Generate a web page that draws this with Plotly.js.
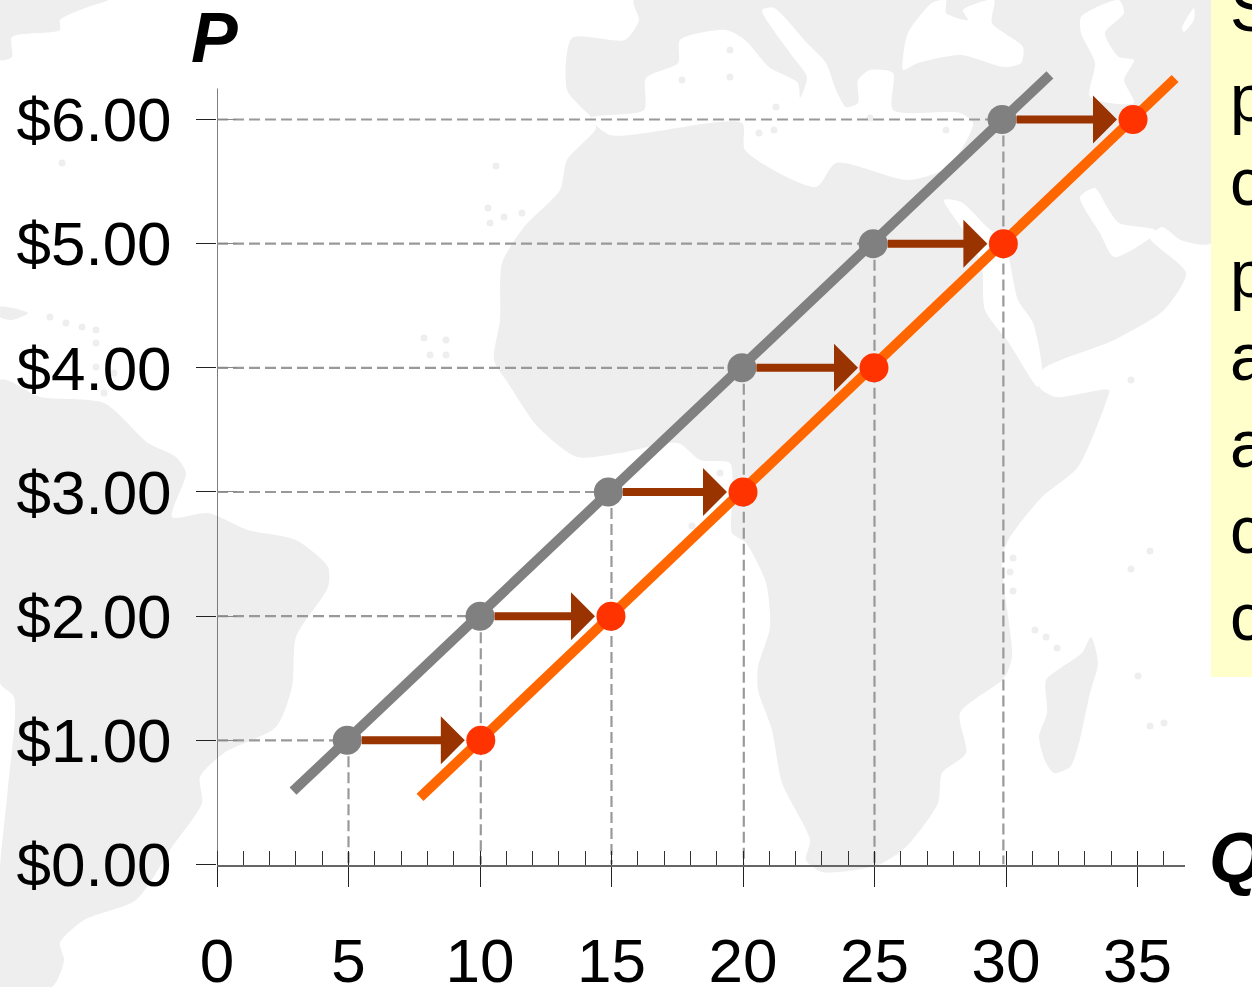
<!DOCTYPE html>
<html>
<head>
<meta charset="utf-8">
<script src="https://cdn.plot.ly/plotly-3.0.1.min.js"></script>
<style>html,body{margin:0;padding:0;background:#fff;overflow:hidden}</style>
</head>
<body>
<div id="chart" style="width:1252px;height:987px"></div>
<script>
// Supply schedule before and after the shift
const priceTicks = [0, 1, 2, 3, 4, 5, 6];
const priceLabels = ['$0.00', '$1.00', '$2.00', '$3.00', '$4.00', '$5.00', '$6.00'];
const prices = [1, 2, 3, 4, 5, 6];
const oldQuantity = [4.95, 10, 14.88, 19.96, 24.95, 29.85];
const newQuantity = [10.03, 14.98, 20, 24.98, 29.9, 34.83];
const guideQuantity = [5, 10.03, 15, 20.03, 25, 29.9];
const oldLineQ = [2.89, 31.67];
const oldLineP = [0.59, 6.36];
const newLineQ = [7.72, 36.43];
const newLineP = [0.54, 6.33];
const axisTopP = 6.25;

// Sidebar text, cut by the page edge
const noteLetters = ['S', 'p', 'c', 'p', 'a', 'a', 'c', 'c'];
const noteRows = [14, 104, 188, 280, 363, 450, 536, 623];

// Backdrop world map, outlined in page coordinates
const afroEurasia = [[572,38],[625,40],[639,20],[634,0],[1211,0],[1211,243],[1181,240],[1162,227],[1150,238],
  [1186,273],[1164,310],[1114,340],[1042,370],[1040,388],[1056,397],[1109,390],[1106,402],[1078,467],[1042,497],
  [1010,537],[1002,557],[1004,587],[1012,657],[1004,678],[960,713],[966,753],[942,773],[938,803],[906,847],
  [878,865],[822,872],[806,860],[810,840],[782,783],[772,730],[758,690],[758,667],[770,627],[766,583],[746,543],
  [732,533],[732,500],[730,463],[700,460],[678,443],[620,453],[577,457],[538,427],[508,383],[494,360],[500,320],
  [502,263],[524,227],[560,190],[567,160],[596,128],[591,117],[584,110],[567,90]];
const mediterranean = [[591,118],[644,110],[646,78],[678,63],[680,40],[726,30],[745,40],[769,67],[798,83],[800,98],
  [807,77],[793,57],[762,10],[774,8],[807,43],[826,63],[836,90],[846,107],[858,103],[858,80],[870,70],[893,73],
  [893,110],[960,113],[973,123],[948,167],[908,180],[836,163],[816,187],[745,150],[742,123],[610,135]];
const blackSea = [[903,57],[908,33],[932,3],[946,0],[946,13],[968,20],[963,10],[994,0],[992,23],[1023,47],[1021,63],
  [1004,67],[961,55],[918,63],[903,70]];
const caspianSea = [[1081,17],[1119,0],[1124,13],[1105,33],[1119,57],[1134,60],[1124,80],[1134,103],[1090,97],
  [1095,63],[1081,33]];
const aralSea = [[1182,28],[1194,8],[1194,20],[1184,32]];
const redSea = [[944,200],[961,202],[985,225],[1005,245],[1018,300],[1033,323],[1042,370],[1038,387],[1009,343],
  [985,310],[982,267],[970,240]];
const persianGulf = [[1080,197],[1095,188],[1107,207],[1119,223],[1155,230],[1150,238],[1114,257],[1100,233]];
const northAmerica = [[0,0],[108,0],[88,7],[60,20],[60,30],[12,37],[12,57],[0,60]];
const cuba = [[0,307],[28,313],[12,320],[0,317]];
const southAmerica = [[0,380],[40,397],[104,403],[148,443],[176,457],[186,473],[172,517],[208,513],[248,530],
  [296,540],[328,567],[328,587],[296,637],[292,687],[276,727],[224,753],[200,777],[202,803],[172,847],[136,900],
  [84,920],[60,943],[64,960],[52,987],[0,987],[0,870],[8,787],[14,697],[0,683]];
const madagascar = [[1091,637],[1098,663],[1090,693],[1078,747],[1070,767],[1054,773],[1046,763],[1039,737],
  [1047,713],[1046,680],[1062,667],[1082,653]];
const noteBox = [[1211,0],[1252,0],[1252,677],[1211,677]];
const islands = [[730,50],[730,77],[682,80],[776,107],[870,118],[946,130],[759,133],[774,130],[1131,380],
  [424,338],[446,340],[430,355],[446,355],[488,208],[504,217],[522,213],[490,223],[496,166],[62,163],
  [50,317],[66,323],[82,327],[96,330],[96,343],[96,367],[104,393],[114,373],[720,473],[692,526],
  [1013,558],[1010,572],[1013,591],[1035,630],[1046,637],[1057,648],[1150,551],[1131,569],[1138,676],[1150,726],[1164,723]];

const LAND = '#eeeeee';
const FONT = 'Liberation Sans, Arial, sans-serif';

function outline(points, color, shape) {
  return {
    type: 'scatter', mode: 'lines', xaxis: 'x', yaxis: 'y',
    x: points.map(p => p[0]).concat(points[0][0]),
    y: points.map(p => p[1]).concat(points[0][1]),
    fill: 'toself', fillcolor: color,
    line: {width: 0, color: color, shape: shape || 'spline', smoothing: 0.7}, hoverinfo: 'skip'
  };
}
function pageText(x, y, text, font) {
  return {type: 'scatter', mode: 'text', xaxis: 'x', yaxis: 'y', x: x, y: y, text: text,
    textposition: 'middle right', textfont: font, hoverinfo: 'skip'};
}

// Dashed guides from each original point back to both axes
const guideX = [], guideY = [];
prices.forEach((p, i) => {
  guideX.push(0, oldQuantity[i], null, guideQuantity[i], guideQuantity[i], null);
  guideY.push(p, p, null, p, 0, null);
});

const traces = [
  outline(afroEurasia, LAND), outline(northAmerica, LAND), outline(southAmerica, LAND),
  outline(cuba, LAND), outline(madagascar, LAND),
  outline(mediterranean, '#ffffff'), outline(blackSea, '#ffffff'), outline(caspianSea, '#ffffff'),
  outline(aralSea, '#ffffff'), outline(redSea, '#ffffff'), outline(persianGulf, '#ffffff'),
  {type: 'scatter', mode: 'markers', xaxis: 'x', yaxis: 'y', x: islands.map(p => p[0]), y: islands.map(p => p[1]),
   marker: {size: 7, color: LAND}, hoverinfo: 'skip'},
  outline(noteBox, '#ffffcc', 'linear'),
  pageText(noteLetters.map(() => 1230), noteRows, noteLetters, {family: FONT, size: 66, color: '#000'}),
  pageText([191], [44], ['<b><i>P</i></b>'], {family: FONT, size: 70, color: '#000'}),
  pageText([1209], [864], ['<b><i>Q</i></b>'], {family: FONT, size: 70, color: '#000'}),

  {type: 'scatter', mode: 'lines', xaxis: 'x2', yaxis: 'y2', x: [0, 0], y: [0, axisTopP], cliponaxis: false,
   line: {color: '#555555', width: 1.5}, hoverinfo: 'skip'},
  {type: 'scatter', mode: 'lines', xaxis: 'x2', yaxis: 'y2', x: guideX, y: guideY, cliponaxis: false,
   connectgaps: false, line: {color: '#999999', width: 2.2, dash: '11px,5px'}, hoverinfo: 'skip'},
  {type: 'scatter', mode: 'lines', xaxis: 'x2', yaxis: 'y2', x: oldLineQ, y: oldLineP, cliponaxis: false,
   line: {color: '#808080', width: 10}, name: 'Supply'},
  {type: 'scatter', mode: 'lines', xaxis: 'x2', yaxis: 'y2', x: newLineQ, y: newLineP, cliponaxis: false,
   line: {color: '#ff6600', width: 10}, name: 'New supply'},
  {type: 'scatter', mode: 'markers', xaxis: 'x2', yaxis: 'y2', x: oldQuantity, y: prices, cliponaxis: false,
   marker: {color: '#808080', size: 29}, name: 'Original quantity'},
  {type: 'scatter', mode: 'markers', xaxis: 'x2', yaxis: 'y2', x: newQuantity, y: prices, cliponaxis: false,
   marker: {color: '#ff3300', size: 29}, name: 'New quantity'},
  // Carries the upward half of the major ticks
  {type: 'scatter', mode: 'markers', xaxis: 'x3', yaxis: 'y3', x: [0], y: [0], marker: {size: 0, opacity: 0}, hoverinfo: 'skip'}
];

const arrows = prices.map((p, i) => ({
  xref: 'x2', yref: 'y2', axref: 'x2', ayref: 'y2',
  x: newQuantity[i], y: p, ax: oldQuantity[i], ay: p,
  text: '', showarrow: true, arrowhead: 1, arrowsize: 1, arrowwidth: 8, arrowcolor: '#993300',
  standoff: 16, startstandoff: 13
}));

const W = 1252, H = 987;
const chartX = [217 / W, 1185 / W];
const chartY = [(H - 864.5) / H, (H - 49.5) / H];
const qRange = [0, 968 / 26.3];
const pRange = [0, 815 / 124.17];

const layout = {
  width: W, height: H, margin: {l: 0, r: 0, t: 0, b: 0}, showlegend: false,
  paper_bgcolor: '#ffffff', plot_bgcolor: 'rgba(0,0,0,0)', font: {family: FONT},
  xaxis: {domain: [0, 1], range: [0, W], visible: false, fixedrange: true},
  yaxis: {domain: [0, 1], range: [H, 0], visible: false, fixedrange: true},
  xaxis2: {domain: chartX, range: qRange, anchor: 'y2', tickmode: 'linear', tick0: 0, dtick: 5,
    showgrid: false, zeroline: false, showline: true, linecolor: '#666666', linewidth: 2,
    ticks: 'outside', ticklen: 20, tickwidth: 1, tickcolor: '#222222',
    minor: {tick0: 0, dtick: 1, ticks: 'inside', ticklen: 14, tickwidth: 1, tickcolor: '#333333', showgrid: false},
    tickfont: {family: FONT, size: 62, color: '#000'}, ticklabelstandoff: 21},
  yaxis2: {domain: chartY, range: pRange, anchor: 'x2', tickmode: 'array', tickvals: priceTicks, ticktext: priceLabels,
    showgrid: false, zeroline: false, showline: false,
    ticks: 'outside', ticklen: 20, tickwidth: 1, tickcolor: '#222222',
    tickfont: {family: FONT, size: 62, color: '#000'}, ticklabelstandoff: 12},
  xaxis3: {domain: chartX, range: qRange, anchor: 'y3', overlaying: 'x2', tickmode: 'linear', tick0: 0, dtick: 5,
    showgrid: false, zeroline: false, showticklabels: false, ticks: 'inside', ticklen: 14, tickwidth: 1, tickcolor: '#222222'},
  yaxis3: {domain: chartY, range: pRange, anchor: 'x3', overlaying: 'y2', tickmode: 'array', tickvals: priceTicks,
    showgrid: false, zeroline: false, showticklabels: false, ticks: 'inside', ticklen: 20, tickwidth: 1, tickcolor: '#888888'},
  annotations: arrows
};

Plotly.newPlot('chart', traces, layout, {displayModeBar: false, staticPlot: true});
</script>
</body>
</html>
